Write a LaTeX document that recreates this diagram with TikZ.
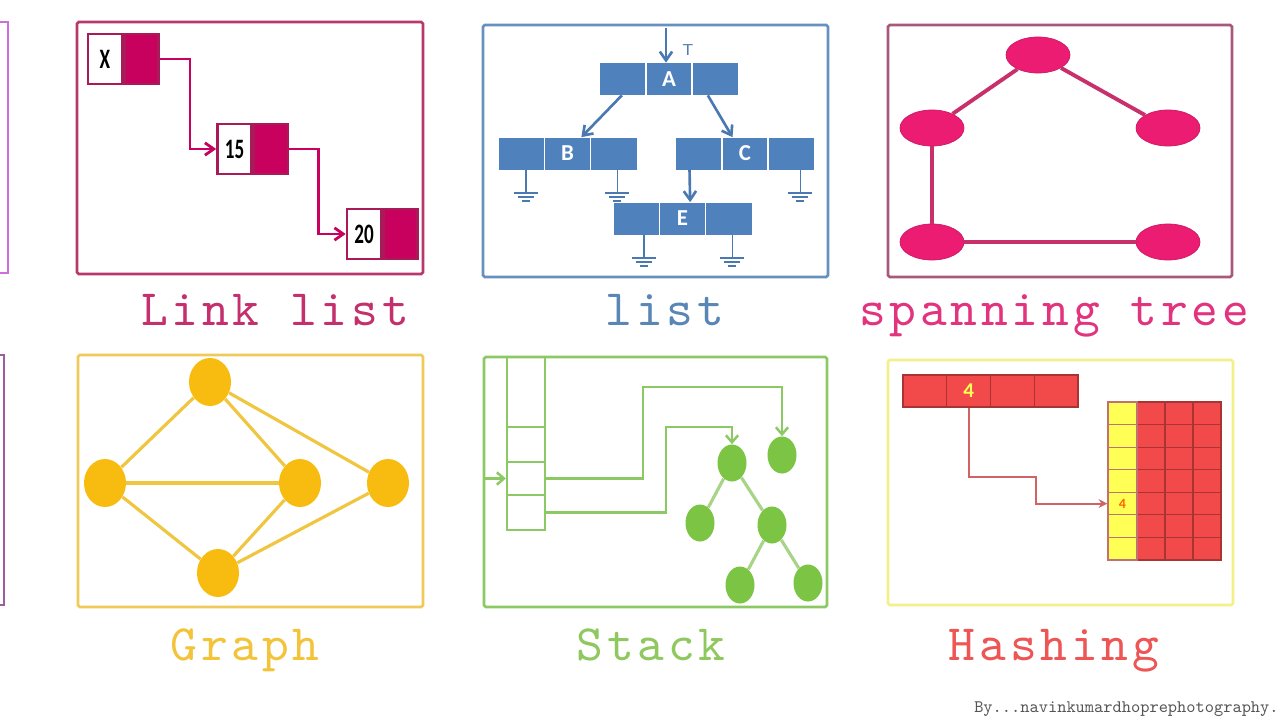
\documentclass[tikz,border=0pt]{standalone}
\usepackage{fontspec}
\setmainfont{Carlito}
\newfontfamily\capfamily{lmmono10-regular}[Extension=.otf, LetterSpace=7.5]
\usetikzlibrary{arrows.meta,shapes.geometric,calc}

% one drawing unit is one pixel of the 1280 x 720 sheet
\def\dpx{0.02cm}

\definecolor{orchidframe}{HTML}{CC6EDC}
\definecolor{plumframe}{HTML}{A05AA0}
\definecolor{linkframe}{HTML}{B8386C}
\definecolor{linkfill}{HTML}{C8005E}
\definecolor{linkedge}{HTML}{A81A58}
\definecolor{linklabel}{HTML}{C4306E}
\definecolor{listframe}{HTML}{6690C0}
\definecolor{listfill}{HTML}{4F81BD}
\definecolor{listedge}{HTML}{4A78B0}
\definecolor{listlabel}{HTML}{5A86B6}
\definecolor{spanframe}{HTML}{A8587A}
\definecolor{spanfill}{HTML}{EC1C73}
\definecolor{spanedge}{HTML}{C8306C}
\definecolor{spanlabel}{HTML}{E2337E}
\definecolor{graphframe}{HTML}{F0CA58}
\definecolor{graphfill}{HTML}{F8BC10}
\definecolor{graphedge}{HTML}{F0C640}
\definecolor{graphlabel}{HTML}{F3C33A}
\definecolor{stackframe}{HTML}{8CC864}
\definecolor{stackfill}{HTML}{7CC444}
\definecolor{stackedge}{HTML}{A8D488}
\definecolor{stacklabel}{HTML}{90C860}
\definecolor{hashframe}{HTML}{F4F088}
\definecolor{hashred}{HTML}{F24A4A}
\definecolor{hashcell}{HTML}{A83434}
\definecolor{hashyellow}{HTML}{FFFF55}
\definecolor{hashedge}{HTML}{D06464}
\definecolor{hashlabel}{HTML}{EE5555}
\definecolor{credit}{HTML}{555555}

\newcommand\narrowtxt[1]{\scalebox{0.68}[1]{#1}}
% typewriter captions with widened letter spacing
\newcommand\captionfont{\capfamily\fontsize{29}{30}\selectfont}
\newcommand\signfont{\fontsize{10}{11}\selectfont\ttfamily}

\begin{document}
\begin{tikzpicture}[x=0.02cm,y=-0.02cm,
  frame/.style={line width=1.5pt, rounded corners=1pt},
  lbl/.style={anchor=base, inner sep=0, font=\captionfont},
  llval/.style={draw=linkedge, fill=white, line width=1.5pt, inner sep=0,
    minimum width=34*\dpx, minimum height=50*\dpx,
    font=\bfseries\fontsize{16}{16}\selectfont},
  llptr/.style={draw=linkedge, fill=linkfill, line width=1.5pt, inner sep=0,
    minimum width=34*\dpx, minimum height=50*\dpx},
  llarrow/.style={draw=linkfill, line width=1.6pt, -{Straight Barb[length=5pt,width=7pt]}},
  lnode/.style={fill=listfill, inner sep=0, minimum width=138*\dpx, minimum height=32*\dpx,
    text=white, font=\bfseries\fontsize{13}{13}\selectfont},
  listarrow/.style={draw=listedge, line width=1.5pt, -{Straight Barb[length=5pt,width=7pt]}},
  gnd/.pic={\draw[listedge, line width=1pt] (0,0) -- (0,23) (-12,23) -- (12,23)
    (-8,27) -- (8,27) (-4,31) -- (4,31);},
  spannode/.style={ellipse, fill=spanfill, draw=spanfill!85!black, line width=0.4pt,
    minimum width=64*\dpx, minimum height=36*\dpx, inner sep=0},
  spanline/.style={draw=spanedge, line width=2.2pt},
  graphnode/.style={ellipse, fill=graphfill, minimum width=42*\dpx, minimum height=48*\dpx, inner sep=0},
  graphline/.style={draw=graphedge, line width=1.8pt},
  stcell/.style={draw=stackframe, line width=1.4pt, minimum width=38*\dpx, inner sep=0},
  stnode/.style={ellipse, fill=stackfill, minimum width=29*\dpx, minimum height=37*\dpx, inner sep=0},
  stline/.style={draw=stackedge, line width=1.8pt},
  starrow/.style={draw=stackframe, line width=1.4pt, -{Straight Barb[length=4pt,width=7pt]}},
  hcell/.style={fill=hashred, draw=hashcell, line width=0.7pt, inner sep=0,
    minimum width=43.75*\dpx, minimum height=32*\dpx},
  hred/.style={fill=hashred, draw=hashcell, line width=0.7pt, inner sep=0,
    minimum width=28*\dpx, minimum height=22.57*\dpx},
  hyel/.style={fill=hashyellow, draw=hashcell!70, line width=0.7pt, inner sep=0,
    minimum width=29*\dpx, minimum height=22.57*\dpx},
  hasharrow/.style={draw=hashedge, line width=1.1pt, -{Stealth[length=5pt,width=5pt]}}
]
\useasboundingbox[fill=white] (0,0) rectangle (1280,720);

% panels cut by the left edge
\draw[orchidframe, line width=1.5pt] (0,22) -- (8,22) -- (8,273) -- (0,273);
\draw[plumframe, line width=1.5pt] (0,355) -- (4,355) -- (4,605) -- (0,605);

% ---------- linked list ----------
\draw[frame, linkframe] (77,22) rectangle (423,274);
\node[llval] (x1) at (105,59) {\narrowtxt{X}};
\node[llptr, anchor=west] (x1p) at (x1.east) {};
\node[llval] (n15) at (234.5,149) {\narrowtxt{15}};
\node[llptr, anchor=west] (n15p) at (n15.east) {};
\node[llval] (n20) at (364,234) {\narrowtxt{20}};
\node[llptr, anchor=west] (n20p) at (n20.east) {};
\draw[llarrow] (x1p.east) -- ++(30,0) |- (n15.west);
\draw[llarrow] (n15p.east) -- ++(29,0) |- (n20.west);
\node[lbl, text=linklabel] (lablink) at (275,325) {Link list};

% ---------- list ----------
\draw[frame, listframe] (483,25) rectangle (828,277);
\node[lnode] (A) at (669,79) {A};
\node[lnode] (B) at (567.5,153.5) {B};
\node[lnode] (C) at (745,153.5) {C};
\node[lnode] (E) at (682.5,218.5) {E};
\foreach \n in {A,B,C,E}
  \foreach \f in {0.333,0.667}
    \draw[white, line width=0.8pt] ($(\n.north west)!\f!(\n.north east)$) -- ($(\n.south west)!\f!(\n.south east)$);
\coordinate (Atop) at (666,28);
\draw[listarrow] (Atop) -- (Atop |- A.north);
\node[text=listedge, font=\sffamily\fontsize{9}{9}\selectfont, inner sep=0] (tmark) at (688,50) {T};
\draw[listarrow] ($(A.south west)!0.16!(A.south east)$) -- ($(B.north west)!0.6!(B.north east)$);
\draw[listarrow] ($(A.south west)!0.78!(A.south east)$) -- ($(C.north west)!0.41!(C.north east)$);
\draw[listarrow] ($(C.south west)!0.1!(C.south east)$) -- ($(E.north west)!0.555!(E.north east)$);
\pic at ($(B.south west)!0.2!(B.south east)$) {gnd};
\pic at ($(B.south west)!0.86!(B.south east)$) {gnd};
\pic at ($(C.south west)!0.9!(C.south east)$) {gnd};
\pic at ($(E.south west)!0.22!(E.south east)$) {gnd};
\pic at ($(E.south west)!0.86!(E.south east)$) {gnd};
\node[lbl, text=listlabel] (lablist) at (665,325) {list};

% ---------- spanning tree ----------
\draw[frame, spanframe] (888,25) rectangle (1232,277);
\node[spannode] (st1) at (1038,55) {};
\node[spannode] (st2) at (932,128) {};
\node[spannode] (st3) at (1168,128) {};
\node[spannode] (st4) at (932,242) {};
\node[spannode] (st5) at (1168,242) {};
\draw[spanline] (st1) -- (st2);
\draw[spanline] (st1) -- (st3);
\draw[spanline] (st2) -- (st4);
\draw[spanline] (st4) -- (st5);
\node[lbl, text=spanlabel] (labspan) at (1054,325) {spanning tree};

% ---------- graph ----------
\draw[frame, graphframe] (78,355) rectangle (423,607);
\node[graphnode] (g1) at (210,382) {};
\node[graphnode] (g2) at (105,483) {};
\node[graphnode] (g3) at (300,483) {};
\node[graphnode] (g4) at (388,483) {};
\node[graphnode] (g5) at (218,573) {};
\foreach \a/\b in {g1/g2, g1/g3, g1/g4, g2/g3, g2/g5, g3/g5, g4/g5}
  \draw[graphline] (\a) -- (\b);
\node[lbl, text=graphlabel] (labgraph) at (245,660) {Graph};

% ---------- stack ----------
\draw[frame, stackframe] (484,357) rectangle (827,607);
\node[stcell, minimum height=70*\dpx] (s0) at (526,392) {};
\node[stcell, minimum height=35*\dpx] (s1) at (526,444.5) {};
\node[stcell, minimum height=33*\dpx] (s2) at (526,478.5) {};
\node[stcell, minimum height=35*\dpx] (s3) at (526,512.5) {};
\coordinate (stin) at (484,478.5);
\draw[starrow] (stin) -- (s2.west);
\node[stnode] (r) at (732,463) {};
\node[stnode] (so) at (782,455) {};
\node[stnode] (lc) at (700,523) {};
\node[stnode] (rc) at (772,525) {};
\node[stnode] (bl) at (740,585) {};
\node[stnode] (br) at (808,583) {};
\draw[stline] (r) -- (lc);
\draw[stline] (r) -- (rc);
\draw[stline] (rc) -- (bl);
\draw[stline] (rc) -- (br);
\draw[starrow] (s2.east) -- ++(97,0) |- ($(so.north)+(0,-49)$) -- (so.north);
\draw[starrow] (s3.east) -- ++(120,0) |- ($(r.north)+(0,-17)$) -- (r.north);
\node[lbl, text=stacklabel] (labstack) at (651,660) {Stack};

% ---------- hashing ----------
\draw[frame, hashframe] (888,360) rectangle (1233,605);
\node[hcell] (t0) at (924.9,391) {};
\node[hcell, text=hashyellow, font=\bfseries\fontsize{12}{12}\selectfont] (t1) at (968.6,391) {4};
\node[hcell] (t2) at (1012.4,391) {};
\node[hcell] (t3) at (1056.1,391) {};
\foreach \r in {0,...,6}
  \foreach \c in {1,2,3}
    \node[hred] (h\r-\c) at (1123+28*\c, 413.3+22.57*\r) {};
\foreach \r in {0,1,2,3,5,6}
  \node[hyel] (h\r-0) at (1122.5, 413.3+22.57*\r) {};
\node[hyel, text=orange!80!red, font=\bfseries\fontsize{8}{8}\selectfont] (h4-0) at (1122.5, 413.3+22.57*4) {4};
\draw[hasharrow] (t1.south) |- ($(h4-0.west)+(-71,-26.6)$) |- (h4-0.west);
\node[lbl, text=hashlabel] (labhash) at (1054,660) {Hashing};

% signature
\node[anchor=base east, inner sep=0, text=credit, font=\signfont] (sig) at (1279,712) {By...navinkumardhoprephotography.};
\end{tikzpicture}
\end{document}
